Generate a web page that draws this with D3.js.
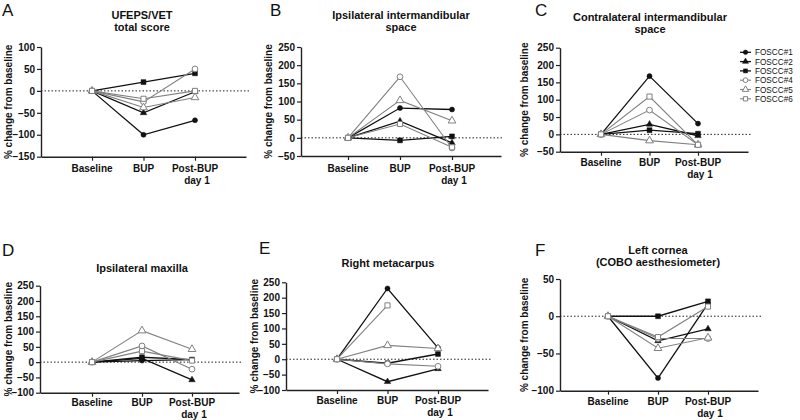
<!DOCTYPE html>
<html><head><meta charset="utf-8">
<script src="https://cdn.jsdelivr.net/npm/d3@7"></script>
<style>
body{margin:0;background:#fff;}
svg{display:block;font-family:"Liberation Sans",Arial,sans-serif;}
</style></head>
<body><svg id="c" width="800" height="420"></svg>
<script>
// ---- data ----
const categories = ["Baseline", "BUP", "Post-BUP day 1"];
const seriesNames = ["FOSCC#1", "FOSCC#2", "FOSCC#3", "FOSCC#4", "FOSCC#5", "FOSCC#6"];
const titles = [
  ["UFEPS/VET", "total score"],
  ["Ipsilateral intermandibular", "space"],
  ["Contralateral intermandibular", "space"],
  ["Ipsilateral maxilla"],
  ["Right metacarpus"],
  ["Left cornea", "(COBO aesthesiometer)"]
];
const panelLetters = ["A", "B", "C", "D", "E", "F"];
const yDomains = [[-150, 100], [-50, 250], [-50, 250], [-100, 250], [-100, 250], [-100, 50]];
// values per series: [Baseline, BUP, Post-BUP day 1]
const valuesA = [[0, -100, -67], [0, -50, -2], [0, 20, 40], [0, -25, 50], [0, -38, -15], [0, -18, 0]];
const valuesB = [[0, 82, 78], [0, 46, -14], [0, -7, 4], [0, 168, -28], [0, 103, 47], [0, 38, -26]];
const valuesC = [[0, 168, 31], [0, 29, -4], [0, 12, 2], [0, 70, -30], [0, -18, -30], [0, 109, -30]];
const valuesD = [[0, 5, 8], [0, 12, -58], [0, 16, 8], [0, 53, -23], [0, 103, 42], [0, 36, 5]];
const valuesE = [[0, 230, 37], [0, -73, -31], [0, -13, 17], [0, -15, -23], [0, 45, 35], [0, 175, null]];
const valuesF = [[0, -83, 17], [0, -33, -17], [0, 0, 20], [0, -30, -30], [0, -43, -29], [0, -28, 13]];
const panelValues = [valuesA, valuesB, valuesC, valuesD, valuesE, valuesF];

// ---- layout (pixels) ----
const layout = [
  {ax0: 41, ax1: 246, c0: 92, c2: 195, yB: 156.7, yT: 47, tx: 142, ty: 15, lx: 2, ly: 16, ylx: 8, labY: 168},
  {ax0: 301, ax1: 501, c0: 348, c2: 452, yB: 156, yT: 47, tx: 401, ty: 15, lx: 270, ly: 16, ylx: 268, labY: 168},
  {ax0: 560, ax1: 748, c0: 601, c2: 698, yB: 151.7, yT: 47.7, tx: 650, ty: 17, lx: 535, ly: 16, ylx: 524, labY: 162},
  {ax0: 40, ax1: 239, c0: 92, c2: 192, yB: 392.7, yT: 285.7, tx: 142, ty: 268, lx: 2, ly: 256, ylx: 8, labY: 402},
  {ax0: 286, ax1: 488, c0: 337, c2: 438, yB: 390, yT: 282.3, tx: 388, ty: 263, lx: 259, ly: 254, ylx: 254, labY: 400},
  {ax0: 560, ax1: 758, c0: 608, c2: 708, yB: 390.7, yT: 279, tx: 658, ty: 250, lx: 535, ly: 256, ylx: 524, labY: 401}
];

const BLACK = "#111", GRAY = "#808080";
const styles = [
  {color: BLACK, sym: d3.symbolCircle, filled: true, size: 20},
  {color: BLACK, sym: d3.symbolTriangle, filled: true, size: 18},
  {color: BLACK, sym: d3.symbolSquare, filled: true, size: 24},
  {color: GRAY, sym: d3.symbolCircle, filled: false, size: 26},
  {color: GRAY, sym: d3.symbolTriangle, filled: false, size: 26},
  {color: GRAY, sym: d3.symbolSquare, filled: false, size: 26}
];

const svg = d3.select("#c");

panelValues.forEach((vals, pi) => {
  const L = layout[pi];
  const g = svg.append("g");
  const x = d3.scaleLinear().domain([0, 2]).range([L.c0, L.c2]);
  const xa = d3.scaleLinear().domain([x.invert(L.ax0), x.invert(L.ax1)]).range([L.ax0, L.ax1]);
  const y = d3.scaleLinear().domain(yDomains[pi]).range([L.yB, L.yT]);

  // panel letter
  g.append("text").attr("x", L.lx).attr("y", L.ly).attr("font-size", 17).attr("fill", "#111").text(panelLetters[pi]);
  // title
  titles[pi].forEach((t, i) => {
    g.append("text").attr("x", L.tx).attr("y", L.ty + 4 + i * 12).attr("text-anchor", "middle")
      .attr("font-size", 11).attr("font-weight", "bold").attr("fill", "#111").text(t);
  });
  // y label
  g.append("text").attr("transform", `translate(${L.ylx + 3.5},${(L.yB + L.yT) / 2}) rotate(-90)`)
    .attr("text-anchor", "middle").attr("font-size", 10).attr("font-weight", "bold").attr("fill", "#111")
    .text("% change from baseline");

  // zero dotted line
  g.append("line").attr("x1", L.ax0).attr("x2", L.ax1 + 3).attr("y1", y(0)).attr("y2", y(0))
    .attr("stroke", "#222").attr("stroke-width", 1).attr("stroke-dasharray", "1.5,2");

  // y axis
  const [d0, d1] = yDomains[pi];
  const ya = g.append("g").attr("transform", `translate(${L.ax0},0)`)
    .call(d3.axisLeft(y).tickValues(d3.range(d0, d1 + 1, 50)).tickSize(4).tickSizeOuter(0).tickPadding(2));
  // x axis
  const xaG = g.append("g").attr("transform", `translate(0,${L.yB})`)
    .call(d3.axisBottom(xa).tickValues([0, 1, 2]).tickSize(4).tickSizeOuter(0).tickFormat(() => ""));
  [ya, xaG].forEach(a => {
    a.select(".domain").attr("stroke", "#222").attr("stroke-width", 1.4);
    a.selectAll(".tick line").attr("stroke", "#222").attr("stroke-width", 1.2);
    a.selectAll("text").attr("font-size", 10).attr("font-weight", "bold").attr("fill", "#111")
      .attr("font-family", '"Liberation Sans",Arial,sans-serif');
  });
  // category labels
  categories.forEach((c, ci) => {
    const lines = c === "Post-BUP day 1" ? ["Post-BUP", "day 1"] : [c];
    lines.forEach((ln, li) => {
      g.append("text").attr("x", x(ci) + (li === 1 ? 2 : 0)).attr("y", L.labY + 3.5 + li * 12)
        .attr("text-anchor", "middle").attr("font-size", 10).attr("font-weight", "bold").attr("fill", "#111").text(ln);
    });
  });

  // series
  vals.forEach((sv, si) => {
    const st = styles[si];
    const line = d3.line().defined(d => d != null).x((d, i) => x(i)).y(d => y(d));
    g.append("path").attr("d", line(sv)).attr("fill", "none").attr("stroke", st.color)
      .attr("stroke-width", st.filled ? 1.3 : 1.1);
    sv.forEach((v, i) => {
      if (v == null) return;
      g.append("path").attr("d", d3.symbol(st.sym, st.size)())
        .attr("transform", `translate(${x(i)},${y(v)})`)
        .attr("fill", st.filled ? st.color : "#fff").attr("stroke", st.color).attr("stroke-width", st.filled ? 0.5 : 1);
    });
  });
});

// legend
const lg = svg.append("g");
seriesNames.forEach((n, i) => {
  const st = styles[i];
  const yy = 52.3 + i * 9.3;
  lg.append("line").attr("x1", 740).attr("x2", 751).attr("y1", yy).attr("y2", yy)
    .attr("stroke", st.color).attr("stroke-width", st.filled ? 1.3 : 1.1);
  lg.append("path").attr("d", d3.symbol(st.sym, st.filled ? 16 : 18)()).attr("transform", `translate(745.5,${yy})`)
    .attr("fill", st.filled ? st.color : "#fff").attr("stroke", st.color).attr("stroke-width", st.filled ? 0.5 : 1);
  lg.append("text").attr("x", 755).attr("y", yy + 3.1).attr("font-size", 8.2).attr("fill", "#111").text(n);
});
</script></body></html>
